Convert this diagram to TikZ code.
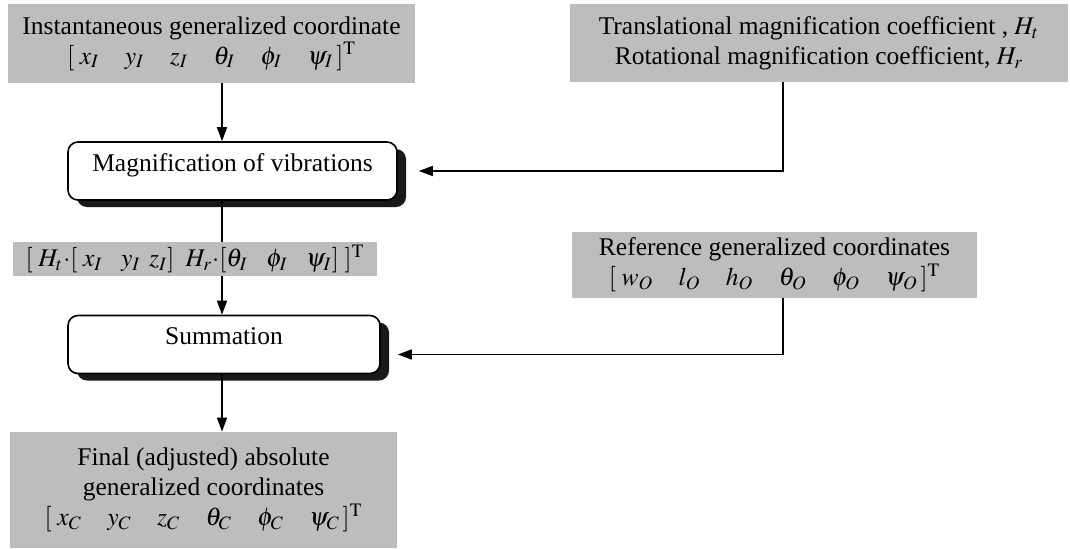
\documentclass[tikz,border=0pt]{standalone}
\usepackage{mathptmx}
\usepackage{fontspec}
\setmainfont{Liberation Serif}
\usetikzlibrary{arrows.meta,shadows}
\definecolor{panelgray}{gray}{0.74}
\tikzset{
  panel/.style={fill=panelgray, align=center, inner sep=0pt},
  stage/.style={draw, line width=0.8pt, rounded corners=5pt, fill=white,
    minimum height=29pt, text height=0pt, text depth=0pt, inner sep=0pt,
    drop shadow={shadow xshift=4.5pt, shadow yshift=-3.5pt, fill=black!90, opacity=1}},
  flow/.style={line width=0.8pt, -{Triangle[length=7pt,width=5pt]}},
  link/.style={line width=0.8pt}
}

\begin{document}
\begin{tikzpicture}[x=0.5pt, y=-0.5pt, font=\fontsize{12.75}{15}\selectfont]
\useasboundingbox (0,0) rectangle (1070,548);

\node[panel, minimum width=203.5pt, minimum height=39.5pt] (inst) at (211.5,43.5)
  {Instantaneous generalized coordinate\\ $[\;x_I\quad y_I\quad z_I\quad \theta_I\quad \phi_I\quad \psi_I\,]^{\mathrm{T}}$};
\node[panel, minimum width=249pt, minimum height=39pt] (coef) at (819,43)
  {Translational magnification coefficient , $H_t$\\ Rotational magnification coefficient, $H_r$};
\node[stage, minimum width=164.5pt] (magn) at (232.5,171) {Magnification of vibrations};
\node[panel, minimum width=182pt, minimum height=17pt] (scaled) at (195,259)
  {$[\;H_t{\cdot}[\;x_I\enskip\; y_I\;\, z_I]\;\; H_r{\cdot}[\theta_I\enskip\; \phi_I\enskip\; \psi_I]\;]^{\mathrm{T}}$};
\node[panel, minimum width=202.5pt, minimum height=33pt] (refc) at (774.5,264.5)
  {Reference generalized coordinates\\ $[\;w_O\quad l_O\quad h_O\quad \theta_O\quad \phi_O\quad \psi_O\,]^{\mathrm{T}}$};
\node[stage, minimum width=156pt] (summ) at (224,344.5) {Summation};
\node[panel, minimum width=193.5pt, minimum height=58pt] (final) at (203.5,490)
  {Final (adjusted) absolute\\ generalized coordinates\\ $[\;x_C\quad y_C\quad z_C\quad \theta_C\quad \phi_C\quad \psi_C\,]^{\mathrm{T}}$};

\coordinate (spine) at (222,0);
\coordinate (rail) at (783,0);

\draw[flow] (inst.south -| spine) -- (magn.north -| spine);
\draw[link] (magn.south -| spine) -- (scaled.north -| spine);
\draw[flow] (scaled.south -| spine) -- (summ.north -| spine);
\draw[flow] (summ.south -| spine) -- (final.north -| spine);
\draw[flow] (coef.south -| rail) |- ([xshift=10.5pt]magn.east);
\draw[flow] (refc.south -| rail) |- ([xshift=8.5pt,yshift=-5pt]summ.east);
\end{tikzpicture}
\end{document}
